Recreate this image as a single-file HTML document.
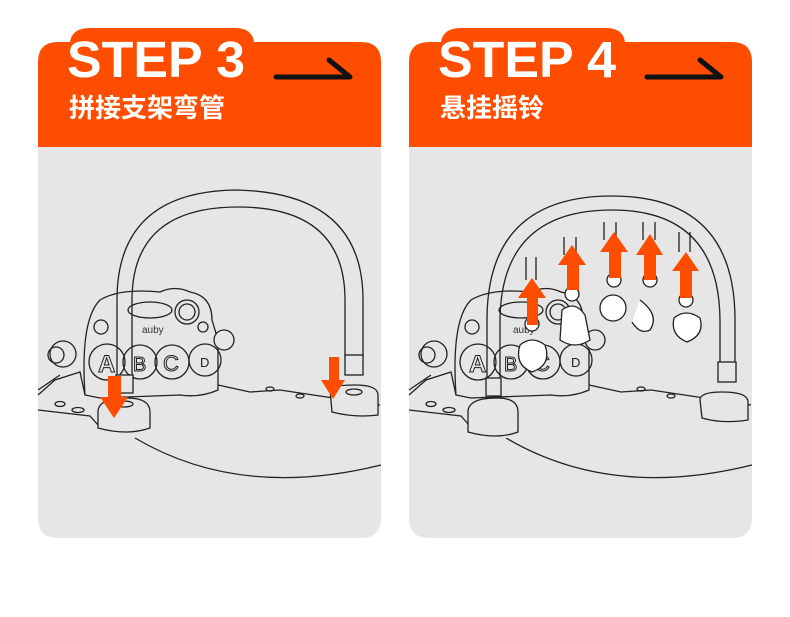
<!DOCTYPE html>
<html><head><meta charset="utf-8"><style>
body{margin:0;width:790px;height:617px;background:#fff;overflow:hidden;font-family:"Liberation Sans","Noto Sans CJK SC",sans-serif}
svg{position:absolute;left:0;top:0}
</style></head><body>
<svg width="790" height="617" viewBox="0 0 790 617">
<defs>
<g id="toy" fill="none" stroke="#222" stroke-width="1.3">
  <path d="M85 395 Q80 320 100 300 Q120 288 160 292 Q175 285 190 292 Q212 296 212 320 L218 340 L218 390 Q200 398 180 395 L100 398 Z" fill="#e6e6e6"/>
  <ellipse cx="150" cy="310" rx="22" ry="8"/>
  <circle cx="187" cy="312" r="12"/><circle cx="187" cy="312" r="8"/>
  <circle cx="101" cy="327" r="7"/>
  <circle cx="203" cy="327" r="5"/>
  <text x="142" y="333" font-size="10" fill="#333" stroke="none" font-family="Liberation Sans,sans-serif">auby</text>
  <circle cx="107" cy="362" r="18"/><circle cx="140" cy="362" r="17"/><circle cx="172" cy="362" r="17"/><circle cx="205" cy="360" r="16"/>
  <text x="98" y="372" font-size="24" font-weight="bold" fill="#e6e6e6" stroke="#222" stroke-width="1">A</text>
  <text x="133" y="371" font-size="20" fill="#e6e6e6" stroke="#222" stroke-width="1">B</text>
  <text x="163" y="371" font-size="22" fill="#e6e6e6" stroke="#222" stroke-width="1">C</text>
  <text x="200" y="367" font-size="13" fill="#222" stroke="none">D</text>
  <circle cx="63" cy="354" r="13" fill="#e6e6e6"/><circle cx="56" cy="355" r="8"/>
  <circle cx="224" cy="340" r="10" fill="#e6e6e6"/>
  <path d="M38 395 L55 380 L80 372 L85 395 M38 410 L90 416 L98 425 M218 385 L250 392 L280 390 L380 405 M38 390 L60 375"/>
  <path d="M135 438 Q240 500 381 465"/>
  <ellipse cx="60" cy="404" rx="5" ry="2.5"/><ellipse cx="78" cy="410" rx="6" ry="2.5"/>
  <ellipse cx="270" cy="389" rx="4" ry="2"/><ellipse cx="300" cy="396" rx="4" ry="2"/>
</g>
</defs>

<!-- LEFT CARD -->
<path d="M38 147 V518 Q38 538 58 538 H361 Q381 538 381 518 V147 Z" fill="#e6e6e6"/>
<path d="M38 147 V62 Q38 42 58 42 H70 Q72 28 90 28 H235 Q252 28 254 42 H361 Q381 42 381 62 V147 Z" fill="#ff4d00"/>
<text x="67" y="77" font-size="51" font-weight="bold" fill="#fff" textLength="178" lengthAdjust="spacingAndGlyphs">STEP 3</text>
<text x="69" y="117" font-size="26" font-weight="bold" fill="#fff" font-family="'Noto Sans CJK SC',sans-serif">拼接支架弯管</text>
<path d="M276 77 H350 L329 60" stroke="#111" stroke-width="5" fill="none" stroke-linecap="round" stroke-linejoin="round"/>
<use href="#toy"/>
<g fill="none" stroke="#222" stroke-width="1.3">
  <path d="M117 393 V300 Q117 192 235 190 Q363 192 363 300 V357 M132 393 V300 Q132 207 238 207 Q345 207 345 300 V357"/>
  <rect x="345" y="355" width="18" height="20" fill="#e6e6e6"/>
  <rect x="116" y="375" width="17" height="18" fill="#e6e6e6"/>
  <path d="M98 412 Q98 398 127 398 Q150 398 150 412 V428 Q127 436 98 428 Z" fill="#e6e6e6"/>
  <ellipse cx="124" cy="404" rx="9" ry="3"/>
  <path d="M330 390 Q330 385 355 385 Q378 385 378 395 V415 Q355 418 332 412 Z" fill="#e6e6e6"/>
  <ellipse cx="354" cy="392" rx="8" ry="3"/>
</g>
<path d="M108 376 H121 V397 H128 L114 418 L100 397 H108 Z" fill="#ff4d00"/>
<path d="M329 357 H339 V380 H345 L333 399 L321 380 H329 Z" fill="#ff4d00"/>

<!-- RIGHT CARD -->
<path d="M409 147 V518 Q409 538 429 538 H732 Q752 538 752 518 V147 Z" fill="#e6e6e6"/>
<path d="M409 147 V62 Q409 42 429 42 H441 Q443 28 461 28 H606 Q623 28 625 42 H732 Q752 42 752 62 V147 Z" fill="#ff4d00"/>
<text x="438" y="77" font-size="51" font-weight="bold" fill="#fff" textLength="178" lengthAdjust="spacingAndGlyphs">STEP 4</text>
<text x="440" y="117" font-size="26" font-weight="bold" fill="#fff" font-family="'Noto Sans CJK SC',sans-serif">悬挂摇铃</text>
<path d="M647 77 H721 L700 60" stroke="#111" stroke-width="5" fill="none" stroke-linecap="round" stroke-linejoin="round"/>
<use href="#toy" transform="translate(371 0)"/>
<g fill="none" stroke="#222" stroke-width="1.3">
  <path d="M487 396 V320 Q487 196 612 196 Q735 196 735 320 V365 M500 396 V322 Q500 210 612 210 Q720 210 720 322 V365"/>
  <rect x="718" y="362" width="18" height="20" fill="#e6e6e6"/>
  <rect x="486" y="378" width="15" height="18" fill="#e6e6e6"/>
  <path d="M468 412 Q468 398 497 398 Q518 398 518 412 V432 Q497 440 468 432 Z" fill="#e6e6e6"/>
  <path d="M700 400 Q700 392 722 392 Q748 392 748 402 V420 Q722 424 702 418 Z" fill="#e6e6e6"/>
  <path d="M526 257 V280 M536 257 V280 M564 237 V255 M576 237 V255 M604 222 V240 M616 222 V240 M643 222 V240 M655 222 V240 M679 232 V252 M690 232 V252"/>
  <g fill="#fff">
    <circle cx="532" cy="324" r="7"/><circle cx="572" cy="294" r="7"/><circle cx="614" cy="280" r="7"/><circle cx="650" cy="280" r="7"/><circle cx="686" cy="300" r="7"/>
    <path d="M520 345 Q532 335 545 345 Q552 365 532 372 Q514 365 520 345Z"/>
    <path d="M562 310 Q575 300 585 315 L590 340 Q575 350 560 340 Z"/>
    <circle cx="613" cy="308" r="13"/>
    <path d="M640 300 Q660 315 650 330 Q640 335 632 322"/>
    <path d="M674 318 Q686 308 700 318 Q705 335 687 342 Q670 335 674 318Z"/>
  </g>
</g>
<g fill="#ff4d00">
  <path d="M527 325 H538 V298 H546 L532 278 L518 298 H527 Z"/>
  <path d="M567 290 H579 V265 H586 L572 245 L558 265 H567 Z"/>
  <path d="M609 278 H621 V252 H628 L614 232 L600 252 H609 Z"/>
  <path d="M644 280 H656 V255 H663 L650 234 L636 255 H644 Z"/>
  <path d="M680 298 H692 V271 H699 L686 252 L672 271 H680 Z"/>
</g>
</svg>
</body></html>
